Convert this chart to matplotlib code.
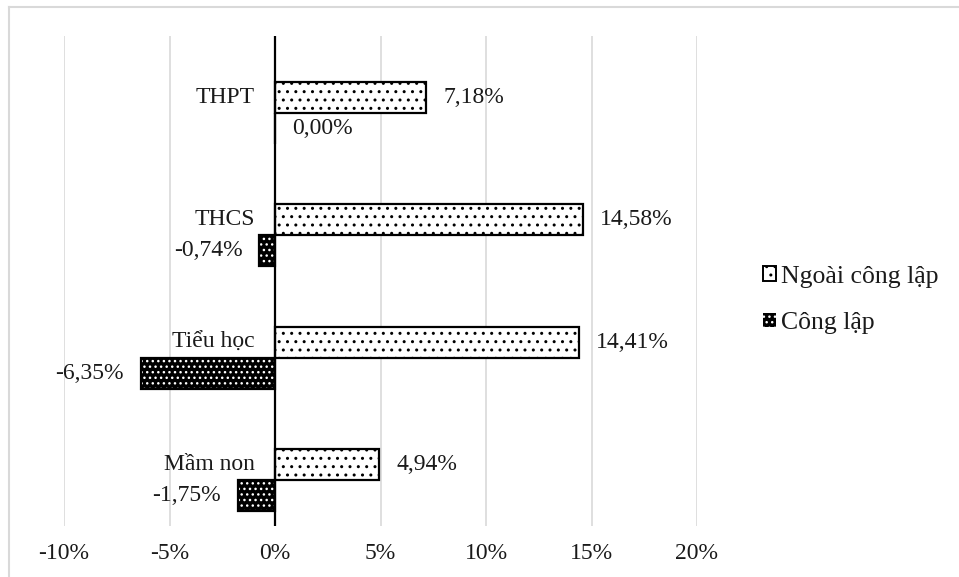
import matplotlib
matplotlib.use("Agg")
import matplotlib.pyplot as plt
import matplotlib.patches as mpatches
from matplotlib.font_manager import FontProperties
from matplotlib.lines import Line2D
import numpy as np

# ---------------------------------------------------------------------------
# Data
# ---------------------------------------------------------------------------

CATEGORIES   = ["Mầm non", "Tiểu học", "THCS", "THPT"]
NGOAI_CL     = [4.94, 14.41, 14.58, 7.18]      # %
CONG_LAP     = [-1.75, -6.35, -0.74, 0.00]     # %
SERIES_NAMES = ["Ngoài công lập", "Công lập"]
X_TICKS      = [-10, -5, 0, 5, 10, 15, 20]

FONT      = "Liberation Serif"
FS        = 17
FS_LEG    = 18.5
TXT_CLR   = "#1a1a1a"
GRID_CLR  = "#d9d9d9"
BAR_H     = 0.253


def pct(v: float) -> str:
    return f"{v:.2f}".replace(".", ",") + "%"


plt.rcParams["font.family"] = [FONT, "DejaVu Serif"]
plt.rcParams["hatch.linewidth"] = 1.0

fig = plt.figure(figsize=(9.59, 5.77), dpi=100)
fig.patch.set_facecolor("white")
ax = fig.add_axes([64 / 959, 51 / 577, 633 / 959, 490 / 577])

y = np.arange(len(CATEGORIES))

# ---- Ngoài công lập: white with black dots ----
ax.barh(y, NGOAI_CL, height=BAR_H, color="white", edgecolor="black",
        hatch="..", linewidth=1.6, zorder=3)

# ---- Công lập: black with white dots, black outline on top ----
ax.barh(y - BAR_H, CONG_LAP, height=BAR_H, color="black", edgecolor="white",
        hatch="...", linewidth=0, zorder=3)
ax.barh(y - BAR_H, CONG_LAP, height=BAR_H, fill=False, edgecolor="black",
        linewidth=1.6, zorder=4)

# ---- Data labels ----
for yi, v in zip(y, NGOAI_CL):
    ax.annotate(pct(v), (v, yi), xytext=(17, 0), textcoords="offset pixels",
                ha="left", va="center", fontsize=FS, color=TXT_CLR)
for yi, v in zip(y, CONG_LAP):
    off = 17 if v >= 0 else -17
    ax.annotate(pct(v), (v, yi - BAR_H), xytext=(off, 0),
                textcoords="offset pixels",
                ha="left" if v >= 0 else "right", va="center",
                fontsize=FS, color=TXT_CLR)

# ---- Category labels next to the zero axis ----
for yi, name in zip(y, CATEGORIES):
    ax.annotate(name, (0, yi), xytext=(-20, 0), textcoords="offset pixels",
                ha="right", va="center", fontsize=FS, color=TXT_CLR)

# ---- Axes styling ----
ax.set_xlim(-10, 20)
ax.set_ylim(-0.5, len(CATEGORIES) - 0.5)
ax.set_xticks(X_TICKS)
ax.set_xticklabels([f"{t}%" for t in X_TICKS], fontsize=FS, color=TXT_CLR)
ax.set_yticks([])
ax.tick_params(axis="x", length=0, pad=12)
ax.xaxis.grid(True, color=GRID_CLR, linewidth=1.2, zorder=0)
ax.set_axisbelow(True)
for s in ax.spines.values():
    s.set_visible(False)
ax.axvline(0, color="black", linewidth=1.6, zorder=5)

# ---- Legend ----
handles = [
    mpatches.Patch(facecolor="white", edgecolor="black", hatch="..",
                   linewidth=1.4),
    mpatches.Patch(facecolor="black", edgecolor="white", hatch="...",
                   linewidth=0),
]
leg = fig.legend(handles, SERIES_NAMES, loc="center left",
                 bbox_to_anchor=(740 / 959, 1 - 300 / 577), frameon=False,
                 prop=FontProperties(family=[FONT, "DejaVu Serif"], size=FS_LEG),
                 handlelength=0.5, handleheight=0.5,
                 handletextpad=0.2, labelspacing=0.95)
for t in leg.get_texts():
    t.set_color(TXT_CLR)

# ---- Chart-area border (left and top edges visible) ----
fig.add_artist(Line2D([9 / 959, 9 / 959], [0, 1 - 7 / 577],
                      transform=fig.transFigure, color=GRID_CLR, linewidth=1.5))
fig.add_artist(Line2D([9 / 959, 1], [1 - 7 / 577, 1 - 7 / 577],
                      transform=fig.transFigure, color=GRID_CLR, linewidth=1.5))

fig.savefig("out.png", dpi=100, facecolor="white")
